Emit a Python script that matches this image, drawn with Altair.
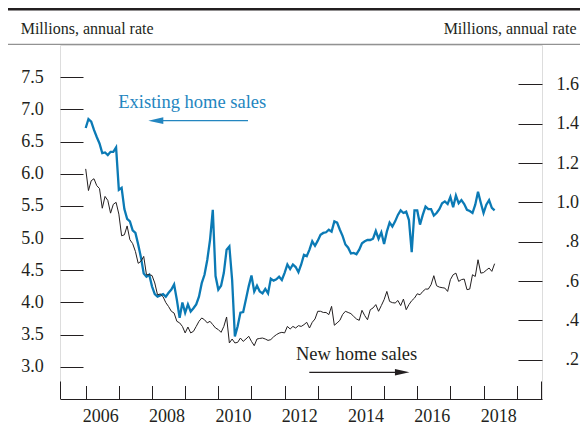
import altair as alt
import pandas as pd

# Existing home sales (millions, annual rate), monthly from Jan 2006 -> left axis
existing = [
    6.71, 6.85, 6.81, 6.68, 6.57, 6.47, 6.32, 6.33, 6.29, 6.34, 6.34, 6.41,
    5.75, 5.78, 5.45, 5.30, 5.26, 5.12, 5.08, 4.90, 4.70, 4.45, 4.40, 4.43,
    4.25, 4.13, 4.09, 4.11, 4.13, 4.09, 4.15, 4.20, 4.28, 4.04, 3.76, 4.00,
    3.84, 3.97, 3.86, 3.91, 3.97, 4.09, 4.30, 4.43, 4.66, 4.97, 5.44, 4.41,
    4.20, 4.26, 4.46, 4.82, 4.87, 4.35, 3.47, 3.63, 3.84, 3.85, 4.05, 4.25,
    4.42, 4.17, 4.26, 4.17, 4.14, 4.21, 4.14, 4.37, 4.34, 4.36, 4.40, 4.35,
    4.46, 4.59, 4.52, 4.59, 4.55, 4.47, 4.59, 4.74, 4.72, 4.82, 4.95, 4.88,
    4.96, 5.05, 5.08, 5.09, 5.13, 5.10, 5.26, 5.24, 5.13, 5.03, 4.90, 4.85,
    4.76, 4.77, 4.75, 4.82, 4.92, 4.95, 4.97, 4.97, 4.99, 5.11, 4.99, 5.09,
    4.91, 5.10, 5.24, 5.18, 5.26, 5.36, 5.43, 5.39, 5.41, 5.28, 4.78, 5.43,
    5.43, 5.21, 5.36, 5.49, 5.45, 5.45, 5.35, 5.39, 5.45, 5.54, 5.57, 5.53,
    5.64, 5.48, 5.66, 5.54, 5.59, 5.53, 5.44, 5.42, 5.39, 5.52, 5.72, 5.55,
    5.39, 5.52, 5.59, 5.47, 5.43,
]

# New home sales (millions, annual rate), monthly from Jan 2006 -> right axis
new_sales = [
    1.17, 1.06, 1.11, 1.12, 1.085, 1.07, 0.97, 1.03, 1.01, 0.945, 0.99, 1.00,
    0.94, 0.83, 0.835, 0.88, 0.81, 0.79, 0.75, 0.69, 0.70, 0.725, 0.632, 0.632,
    0.628, 0.59, 0.53, 0.534, 0.52, 0.49, 0.47, 0.446, 0.437, 0.395, 0.387, 0.369,
    0.336, 0.366, 0.336, 0.344, 0.369, 0.395, 0.412, 0.403, 0.387, 0.395, 0.378, 0.361,
    0.353, 0.339, 0.369, 0.417, 0.285, 0.305, 0.285, 0.288, 0.310, 0.293, 0.305, 0.319,
    0.293, 0.271, 0.305, 0.308, 0.310, 0.305, 0.298, 0.302, 0.316, 0.327, 0.335, 0.339,
    0.336, 0.369, 0.356, 0.369, 0.361, 0.373, 0.369, 0.378, 0.390, 0.361, 0.390, 0.407,
    0.446, 0.446, 0.440, 0.440, 0.429, 0.471, 0.375, 0.387, 0.400, 0.430, 0.446, 0.440,
    0.434, 0.420, 0.407, 0.400, 0.451, 0.424, 0.403, 0.454, 0.463, 0.480, 0.446, 0.475,
    0.505, 0.547, 0.496, 0.490, 0.488, 0.501, 0.475, 0.508, 0.454, 0.480, 0.500, 0.513,
    0.535, 0.530, 0.547, 0.559, 0.559, 0.581, 0.627, 0.576, 0.569, 0.566, 0.564, 0.547,
    0.607, 0.632, 0.640, 0.598, 0.607, 0.610, 0.556, 0.559, 0.632, 0.623, 0.708, 0.640,
    0.643, 0.655, 0.666, 0.649, 0.688,
]

months = pd.date_range("2006-01-01", periods=len(existing), freq="MS")
t = [d.year + (d.month - 1) / 12 for d in months]

left_ticks = [3.0, 3.5, 4.0, 4.5, 5.0, 5.5, 6.0, 6.5, 7.0, 7.5]
right_ticks = [0.2, 0.4, 0.6, 0.8, 1.0, 1.2, 1.4, 1.6]
year_ticks = list(range(2006, 2020))
year_labels = [2006, 2008, 2010, 2012, 2014, 2016, 2018]

FONT = "Liberation Serif"
INK = "#231f20"
BLUE = "#0b7ab5"
TEXT_BLUE = "#2386c0"

W, H = 482, 354
XDOM = [2005.225, 2019.763]
yl = alt.Scale(domain=[2.5, 8.0], nice=False, zero=False)
yr = alt.Scale(domain=[0.0, 1.8], nice=False, zero=False)

df = pd.DataFrame({"t": t, "existing": existing, "new": new_sales})
one = pd.DataFrame({"a": [0]})

# x axis 1: inward year ticks only
x_axis_ticks = alt.Axis(
    orient="bottom", values=year_ticks, labels=False, ticks=True, tickSize=13.5,
    offset=-13.5, domain=False, grid=False, tickColor=INK, tickWidth=1, title=None,
)
# x axis 2: baseline + mid-year labels
x_axis_labels = alt.Axis(
    orient="bottom", values=[y + 0.44 for y in year_labels],
    labelExpr="format(floor(datum.value), 'd')",
    ticks=False, tickSize=0, grid=False, labelPadding=8, labelFlush=False,
    labelFont=FONT, labelFontSize=18, labelColor=INK,
    domainColor=INK, domainWidth=1, title=None,
)

blue_line = alt.Chart(df).mark_line(color=BLUE, strokeWidth=2.3).encode(
    x=alt.X("t:Q", scale=alt.Scale(domain=XDOM, nice=False, zero=False), axis=x_axis_ticks),
    y=alt.Y("existing:Q", scale=yl, axis=alt.Axis(
        orient="left", values=left_ticks, format=".1f", ticks=True, tickSize=23,
        offset=-23, tickColor=INK, tickWidth=1,
        domain=False, grid=False, labelPadding=16.7, labelFont=FONT,
        labelFontSize=18, labelColor=INK, title=None)),
)

black_line = alt.Chart(df).mark_line(color=INK, strokeWidth=1).encode(
    x=alt.X("t:Q", scale=alt.Scale(domain=XDOM, nice=False, zero=False), axis=x_axis_labels),
    y=alt.Y("new:Q", scale=yr, axis=alt.Axis(
        orient="right", values=right_ticks,
        labelExpr="datum.value < 1 ? replace(format(datum.value, '.1f'), '0.', '.') : format(datum.value, '.1f')",
        ticks=True, tickSize=24, offset=-24, tickColor=INK, tickWidth=1,
        domain=False, grid=False, labelAlign="right",
        labelPadding=36.5, labelFont=FONT, labelFontSize=18, labelColor=INK, title=None)),
)

end_l = alt.Chart(one).mark_rule(color=INK, strokeWidth=1).encode(
    x=alt.value(0.5), y=alt.value(H - 17.5), y2=alt.value(H))
end_r = alt.Chart(one).mark_rule(color=INK, strokeWidth=1).encode(
    x=alt.value(W - 0.5), y=alt.value(H - 17.5), y2=alt.value(H))

top_thick = alt.Chart(one).mark_rule(color=INK, strokeWidth=2.6).encode(
    x=alt.value(-52), x2=alt.value(520), y=alt.value(-35.7))
top_thin = alt.Chart(one).mark_rule(color="#777777", strokeWidth=1).encode(
    x=alt.value(-52), x2=alt.value(520), y=alt.value(-0.7))
hdr_l = alt.Chart(one).mark_text(text="Millions, annual rate", font=FONT, fontSize=16,
                                 color=INK, align="left", baseline="alphabetic").encode(
    x=alt.value(-39.3), y=alt.value(-11))
hdr_r = alt.Chart(one).mark_text(text="Millions, annual rate", font=FONT, fontSize=16,
                                 color=INK, align="right", baseline="alphabetic").encode(
    x=alt.value(516.5), y=alt.value(-11))

ex_txt = alt.Chart(one).mark_text(text="Existing home sales", font=FONT, fontSize=18.5,
                                  color=TEXT_BLUE, align="left", baseline="alphabetic").encode(
    x=alt.value(58.3), y=alt.value(63.3))
ex_line = alt.Chart(one).mark_rule(color=TEXT_BLUE, strokeWidth=1.3).encode(
    x=alt.value(100), x2=alt.value(188), y=alt.value(75.7))
ex_head = alt.Chart(one).mark_point(shape="M-1,0L1,-0.45L1,0.45Z", size=225, filled=True,
                                    color=TEXT_BLUE, opacity=1).encode(
    x=alt.value(95.8), y=alt.value(75.7))

nw_txt = alt.Chart(one).mark_text(text="New home sales", font=FONT, fontSize=18.5,
                                  color=INK, align="left", baseline="alphabetic").encode(
    x=alt.value(236), y=alt.value(315))
nw_line = alt.Chart(one).mark_rule(color=INK, strokeWidth=1.2).encode(
    x=alt.value(249.3), x2=alt.value(338), y=alt.value(327.3))
nw_head = alt.Chart(one).mark_point(shape="M1,0L-1,-0.45L-1,0.45Z", size=210, filled=True,
                                    color=INK, opacity=1).encode(
    x=alt.value(342.2), y=alt.value(327.3))

chart = alt.layer(
    blue_line, black_line, end_l, end_r, top_thick, top_thin, hdr_l, hdr_r,
    ex_txt, ex_line, ex_head, nw_txt, nw_line, nw_head,
).resolve_scale(x="independent", y="independent").properties(
    width=W, height=H,
    autosize=alt.AutoSizeParams(type="none"),
    padding={"left": 52, "top": 37, "right": 38, "bottom": 25},
).configure_view(stroke=None).configure(background="white")

chart.save("out.html", embed_options={"renderer": "svg", "actions": False})
